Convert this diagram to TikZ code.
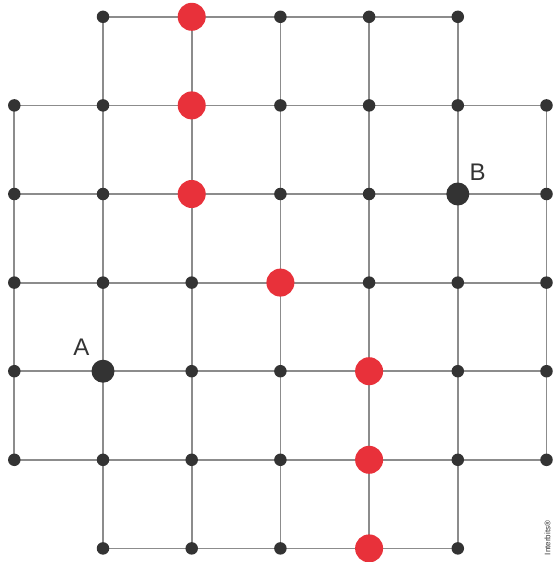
\documentclass[tikz,border=0pt]{standalone}
\usepackage{fontspec}
\setmainfont{Liberation Sans}
\definecolor{gridgray}{HTML}{8C8C8C}
\definecolor{dotdark}{HTML}{333333}
\definecolor{dotred}{HTML}{E8313A}
\begin{document}
\begin{tikzpicture}[x=1pt,y=-1pt,
  gridline/.style={draw=gridgray,line width=1.8pt},
  smalldot/.style={circle,fill=dotdark,inner sep=0pt,minimum size=12.5pt},
  reddot/.style={circle,fill=dotred,inner sep=0pt,minimum size=28pt},
  bigdot/.style={circle,fill=dotdark,inner sep=0pt,minimum size=23pt},
  lbl/.style={font=\fontsize{24}{24}\selectfont,text=dotdark,inner sep=0pt}]
\useasboundingbox (0,0) rectangle (552,562);
% coordinates
\foreach \i in {0,...,6}{
  \foreach \j in {0,...,6}{
    \coordinate (g-\i-\j) at ({14.3+88.7*\i},{16.8+88.6*\j});
  }
}
% horizontal lines
\draw[gridline] (g-1-0) -- (g-5-0);
\draw[gridline] (g-1-6) -- (g-5-6);
\foreach \j in {1,...,5}{\draw[gridline] (g-0-\j) -- (g-6-\j);}
% vertical lines
\draw[gridline] (g-0-1) -- (g-0-5);
\draw[gridline] (g-6-1) -- (g-6-5);
\foreach \i in {1,...,5}{\draw[gridline] (g-\i-0) -- (g-\i-6);}
% small dots
\foreach \i in {1,...,5}{
  \node[smalldot] (t-\i) at (g-\i-0) {};
  \node[smalldot] (b-\i) at (g-\i-6) {};
}
\foreach \i in {0,...,6}{
  \foreach \j in {1,...,5}{
    \node[smalldot] (d-\i-\j) at (g-\i-\j) {};
  }
}
% red dots
\node[reddot] (r1) at (g-2-0) {};
\node[reddot] (r2) at (g-2-1) {};
\node[reddot] (r3) at (g-2-2) {};
\node[reddot] (r4) at (g-3-3) {};
\node[reddot] (r5) at (g-4-4) {};
\node[reddot] (r6) at (g-4-5) {};
\node[reddot] (r7) at (g-4-6) {};
% A and B
\node[bigdot] (A) at (g-1-4) {};
\node[bigdot] (B) at (g-5-2) {};
\node[lbl] (lA) at (81.5,347) {A};
\node[lbl] (lB) at (477.5,172.5) {B};
\node[rotate=90,font=\fontsize{8}{8}\selectfont,text=dotdark,inner sep=0pt] (ib) at (547.5,538) {Interbits®};
\end{tikzpicture}
\end{document}
